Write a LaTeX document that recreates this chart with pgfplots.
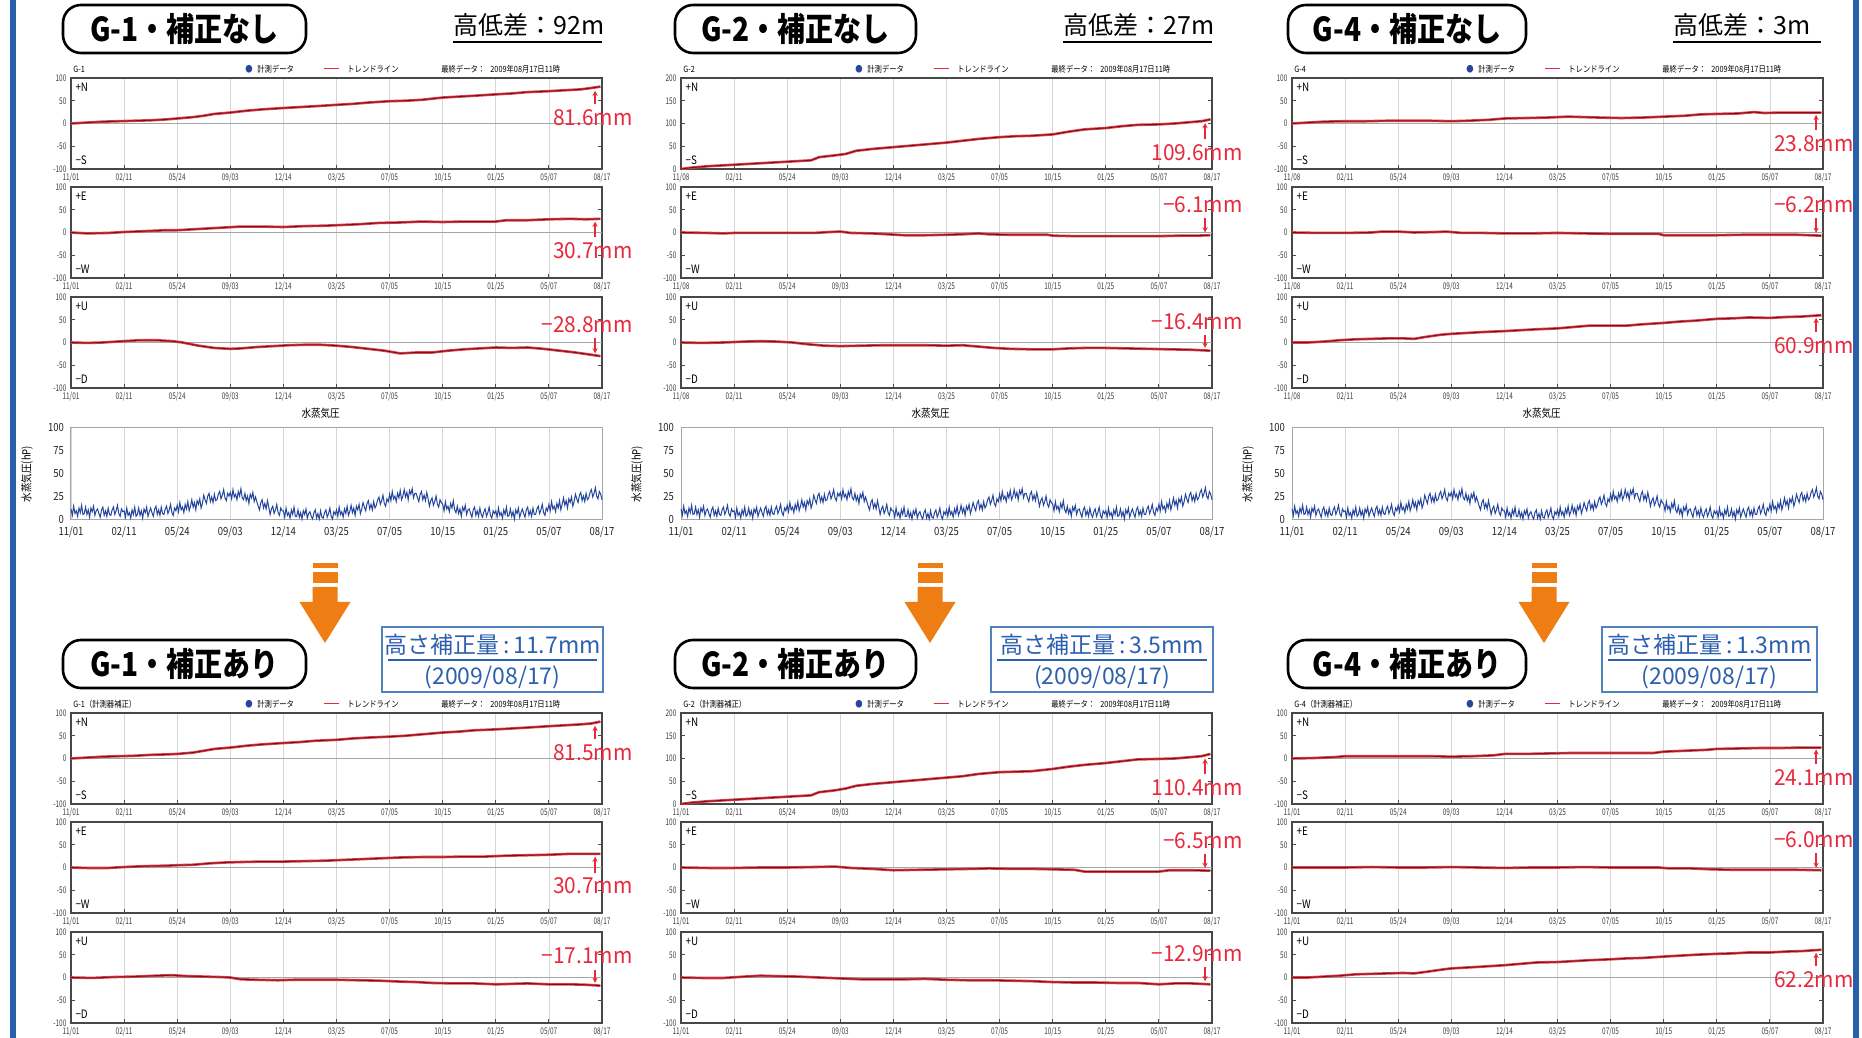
\documentclass[border=0pt]{standalone}
\usepackage{fontspec}
\setmainfont{Noto Sans CJK JP}
\newfontfamily\narrowf[FakeStretch=0.7]{Noto Sans CJK JP}
\newfontfamily\condf[FakeStretch=0.85]{Noto Sans CJK JP}
\newfontfamily\annf[FakeStretch=0.95]{Noto Sans CJK JP}
\usepackage{pgfplots}
\usepackage{pgfplotstable}
\pgfplotsset{compat=1.18}
\usetikzlibrary{arrows.meta}

\definecolor{trendred}{RGB}{228,62,72}
\definecolor{datared}{RGB}{115,20,28}
\definecolor{annred}{RGB}{232,40,60}
\definecolor{vapblue}{RGB}{38,70,158}
\definecolor{frameblue}{RGB}{40,95,170}
\definecolor{orng}{RGB}{238,125,20}
\definecolor{txtblue}{RGB}{45,95,175}
\definecolor{boxblue}{RGB}{80,130,190}

\newcommand\tickfont{\narrowf\fontsize{4.6}{5}\selectfont}
\newcommand\vapfont{\condf\fontsize{5.6}{6}\selectfont}
\newcommand\hdrfont{\condf\fontsize{4.3}{5}\selectfont}
\newcommand\lblfont{\condf\fontsize{5.8}{6}\selectfont}
\newcommand\annfont{\annf\fontsize{11}{11}\selectfont}
\newcommand\titlef{\condf\bfseries\fontsize{16.5}{17}\selectfont}
\newcommand\hlfont{\fontsize{12.5}{13}\selectfont}
\newcommand\bbfont{\fontsize{11.5}{12}\selectfont}

% ---------------- data ----------------
\pgfplotstableread[row sep=\\]{x y\\0 0\\0.3 2\\0.6 4\\0.9 5\\1.2 6\\1.5 7\\1.8 9\\2.0 11\\2.3 14\\2.5 17\\2.7 21\\3.0 24\\3.3 28\\3.6 31\\4.0 34\\4.3 36\\4.6 38\\5.0 41\\5.3 43\\5.6 46\\6.0 49\\6.3 50\\6.6 52\\7.0 57\\7.3 59\\7.6 61\\8.0 64\\8.3 66\\8.6 69\\9.0 71\\9.3 73\\9.6 75\\9.8 78\\9.97 81\\}\tAN
\pgfplotstableread[row sep=\\]{x y\\0 0\\0.3 -2\\0.7 -1\\1.0 1\\1.4 3\\1.8 5\\2.0 5\\2.3 7\\2.6 9\\2.9 11\\3.2 13\\3.6 13\\4.0 12\\4.4 14\\4.8 15\\5.0 16\\5.4 18\\5.8 21\\6.2 22\\6.6 24\\7.0 23\\7.4 24\\7.8 24\\8.0 24\\8.2 27\\8.6 27\\9.0 29\\9.4 30\\9.7 29\\9.97 30\\}\tAE
\pgfplotstableread[row sep=\\]{x y\\0 0\\0.3 -1\\0.6 0\\1.0 3\\1.3 5\\1.6 5\\1.9 3\\2.1 0\\2.4 -7\\2.7 -12\\3.0 -14\\3.2 -13\\3.5 -10\\3.8 -8\\4.1 -6\\4.4 -5\\4.7 -5\\5.0 -7\\5.3 -10\\5.6 -14\\5.9 -18\\6.2 -24\\6.5 -22\\6.8 -22\\7.1 -18\\7.4 -15\\7.7 -13\\8.0 -11\\8.3 -12\\8.6 -11\\8.9 -14\\9.2 -18\\9.5 -22\\9.8 -27\\9.97 -30\\}\tAU
\pgfplotstableread[row sep=\\]{x y\\0 0\\0.2 3\\0.5 6\\0.8 8\\1.1 10\\1.4 12\\1.7 14\\2.0 16\\2.3 18\\2.45 19\\2.6 26\\2.9 30\\3.1 33\\3.3 40\\3.6 44\\4.0 48\\4.3 51\\4.6 54\\5.0 58\\5.3 62\\5.6 66\\6.0 70\\6.3 72\\6.6 73\\7.0 76\\7.3 82\\7.6 87\\8.0 90\\8.3 94\\8.6 97\\9.0 98\\9.3 100\\9.6 103\\9.8 105\\9.97 109\\}\tBN
\pgfplotstableread[row sep=\\]{x y\\0 0\\0.5 -1\\0.8 -2\\1.0 -1\\1.5 -1\\2.0 -1\\2.5 -1\\2.8 1\\3.0 2\\3.2 -1\\3.6 -2\\3.9 -4\\4.2 -6\\4.6 -6\\5.0 -5\\5.3 -4\\5.6 -2\\5.8 -4\\6.2 -5\\6.6 -5\\6.9 -5\\7.0 -7\\7.4 -8\\7.8 -8\\8.2 -8\\8.6 -8\\9.0 -8\\9.4 -7\\9.7 -7\\9.97 -6\\}\tBE
\pgfplotstableread[row sep=\\]{x y\\0 0\\0.4 -1\\0.8 0\\1.2 2\\1.5 3\\1.8 2\\2.1 0\\2.4 -4\\2.7 -7\\3.0 -8\\3.4 -7\\3.8 -6\\4.2 -6\\4.6 -6\\5.0 -7\\5.3 -6\\5.6 -9\\5.9 -12\\6.2 -14\\6.6 -15\\7.0 -15\\7.3 -13\\7.6 -12\\8.0 -12\\8.4 -13\\8.8 -14\\9.2 -15\\9.6 -16\\9.97 -18\\}\tBU
\pgfplotstableread[row sep=\\]{x y\\0 0\\0.3 2\\0.6 4\\1.0 5\\1.4 5\\1.8 6\\2.2 6\\2.6 6\\3.0 5\\3.3 6\\3.7 8\\4.0 11\\4.4 12\\4.8 13\\5.2 15\\5.5 14\\5.8 13\\6.2 12\\6.6 13\\7.0 15\\7.4 17\\7.7 20\\8.0 21\\8.4 22\\8.7 25\\8.9 23\\9.2 24\\9.6 24\\9.97 24\\}\tCN
\pgfplotstableread[row sep=\\]{x y\\0 0\\0.5 -1\\1.0 -1\\1.5 0\\1.7 2\\2.0 2\\2.3 0\\2.7 1\\2.9 2\\3.2 -1\\3.6 -1\\4.0 -2\\4.5 -2\\5.0 -1\\5.5 -2\\6.0 -3\\6.5 -3\\6.9 -3\\7.0 -6\\7.5 -6\\8.0 -6\\8.5 -5\\9.0 -5\\9.5 -5\\9.97 -7\\}\tCE
\pgfplotstableread[row sep=\\]{x y\\0 0\\0.3 0\\0.6 2\\0.9 5\\1.2 7\\1.5 8\\1.8 9\\2.1 9\\2.3 8\\2.5 12\\2.8 17\\3.0 19\\3.3 21\\3.6 23\\4.0 25\\4.3 27\\4.6 29\\5.0 31\\5.3 34\\5.6 37\\6.0 37\\6.3 37\\6.6 40\\7.0 43\\7.3 46\\7.6 48\\8.0 52\\8.3 53\\8.6 55\\9.0 54\\9.3 56\\9.6 57\\9.97 60\\}\tCU
\pgfplotstableread[row sep=\\]{x y\\0 0\\0.3 2\\0.6 4\\0.9 5\\1.2 6\\1.5 8\\1.8 9\\2.0 10\\2.3 13\\2.5 17\\2.7 21\\3.0 24\\3.3 28\\3.6 31\\4.0 34\\4.3 36\\4.6 39\\5.0 41\\5.3 44\\5.6 46\\6.0 48\\6.3 50\\6.6 53\\7.0 57\\7.3 59\\7.6 62\\8.0 64\\8.3 66\\8.6 68\\9.0 71\\9.3 73\\9.6 75\\9.8 77\\9.97 81\\}\tDN
\pgfplotstableread[row sep=\\]{x y\\0 0\\0.3 -1\\0.7 -1\\1.0 1\\1.4 3\\1.8 4\\2.0 5\\2.3 6\\2.6 9\\2.9 11\\3.2 12\\3.6 13\\4.0 13\\4.4 14\\4.8 15\\5.0 16\\5.4 18\\5.8 20\\6.2 22\\6.6 23\\7.0 23\\7.4 24\\7.8 24\\8.0 25\\8.2 26\\8.6 27\\9.0 28\\9.4 30\\9.7 30\\9.97 30\\}\tDE
\pgfplotstableread[row sep=\\]{x y\\0 0\\0.4 -1\\0.8 1\\1.2 2\\1.6 4\\1.9 5\\2.2 3\\2.5 2\\2.8 1\\3.0 0\\3.2 -4\\3.5 -5\\3.9 -6\\4.2 -5\\4.6 -5\\5.0 -5\\5.4 -6\\5.8 -7\\6.2 -9\\6.5 -10\\6.8 -12\\7.2 -13\\7.6 -13\\8.0 -15\\8.3 -14\\8.6 -13\\9.0 -15\\9.4 -15\\9.7 -16\\9.97 -18\\}\tDU
\pgfplotstableread[row sep=\\]{x y\\0 0\\0.2 3\\0.5 6\\0.8 8\\1.1 10\\1.4 12\\1.7 14\\2.0 16\\2.3 18\\2.45 19\\2.6 26\\2.9 30\\3.1 34\\3.3 40\\3.6 44\\4.0 48\\4.3 51\\4.6 54\\5.0 58\\5.3 61\\5.6 66\\6.0 70\\6.3 71\\6.6 72\\7.0 77\\7.3 82\\7.6 86\\8.0 90\\8.3 94\\8.6 98\\9.0 99\\9.3 100\\9.6 103\\9.8 105\\9.97 110\\}\tEN
\pgfplotstableread[row sep=\\]{x y\\0 0\\0.5 -1\\1.0 -1\\1.5 0\\2.0 0\\2.5 1\\2.9 2\\3.2 -1\\3.6 -3\\4.0 -6\\4.5 -5\\5.0 -4\\5.5 -3\\5.8 -2\\6.2 -3\\6.6 -3\\7.0 -4\\7.4 -5\\7.6 -9\\8.0 -9\\8.5 -9\\9.0 -9\\9.2 -6\\9.6 -6\\9.97 -7\\}\tEE
\pgfplotstableread[row sep=\\]{x y\\0 0\\0.4 -1\\0.8 -1\\1.2 2\\1.5 4\\1.8 3\\2.2 2\\2.6 0\\3.0 -2\\3.4 -4\\3.8 -4\\4.2 -4\\4.6 -3\\5.0 -5\\5.4 -6\\5.8 -6\\6.2 -7\\6.6 -8\\7.0 -10\\7.4 -11\\7.8 -11\\8.2 -12\\8.6 -12\\9.0 -15\\9.3 -13\\9.6 -13\\9.97 -15\\}\tEU
\pgfplotstableread[row sep=\\]{x y\\0 0\\0.4 1\\0.8 3\\1.0 5\\1.4 5\\1.8 5\\2.2 5\\2.6 5\\3.0 4\\3.4 5\\3.8 7\\4.0 10\\4.4 10\\4.8 11\\5.2 12\\5.6 12\\6.0 12\\6.4 12\\6.8 12\\7.0 15\\7.4 17\\7.8 19\\8.0 21\\8.4 22\\8.8 23\\9.2 23\\9.6 24\\9.97 24\\}\tFN
\pgfplotstableread[row sep=\\]{x y\\0 0\\0.5 0\\1.0 0\\1.5 1\\2.0 0\\2.5 0\\3.0 1\\3.5 0\\4.0 -1\\4.5 0\\5.0 0\\5.5 1\\6.0 0\\6.5 0\\6.9 0\\7.1 -2\\7.5 -2\\7.9 -4\\8.3 -5\\8.7 -5\\9.1 -5\\9.5 -5\\9.97 -6\\}\tFE
\pgfplotstableread[row sep=\\]{x y\\0 0\\0.3 0\\0.6 2\\0.9 4\\1.2 7\\1.5 8\\1.8 9\\2.1 10\\2.3 9\\2.5 12\\2.8 17\\3.0 20\\3.3 22\\3.6 24\\4.0 27\\4.3 30\\4.6 33\\5.0 34\\5.3 36\\5.6 38\\6.0 40\\6.3 42\\6.6 43\\7.0 46\\7.3 48\\7.6 50\\8.0 52\\8.3 53\\8.6 55\\9.0 55\\9.3 57\\9.6 58\\9.97 61\\}\tFU
% water vapour pressure, one value every 0.025 of the date axis
\pgfplotstableread[row sep=\\]{y\\
12\\5\\15\\7\\10\\4\\13\\8\\16\\6\\
7\\14\\6\\11\\3\\13\\9\\15\\5\\10\\
12\\7\\3\\11\\14\\5\\10\\4\\13\\6\\
5\\11\\14\\6\\10\\16\\7\\4\\12\\9\\
10\\3\\13\\5\\8\\2\\11\\6\\14\\4\\
6\\13\\5\\10\\2\\12\\8\\14\\4\\9\\
13\\8\\4\\12\\15\\6\\11\\5\\14\\7\\
6\\12\\15\\7\\11\\17\\8\\5\\13\\10\\
16\\9\\19\\11\\14\\8\\17\\12\\20\\10\\
15\\22\\14\\19\\11\\21\\17\\23\\13\\18\\
27\\22\\18\\26\\29\\20\\25\\19\\28\\21\\
22\\28\\31\\23\\27\\33\\24\\21\\29\\26\\
30\\23\\33\\25\\28\\22\\31\\26\\34\\24\\
22\\29\\21\\26\\18\\28\\24\\30\\20\\25\\
20\\15\\11\\19\\22\\13\\18\\12\\21\\14\\
6\\12\\15\\7\\11\\17\\8\\5\\13\\10\\
10\\3\\13\\5\\8\\2\\11\\6\\14\\4\\
4\\11\\3\\8\\1\\10\\6\\12\\2\\7\\
9\\4\\1\\8\\11\\2\\7\\1\\10\\3\\
2\\8\\11\\3\\7\\13\\4\\1\\9\\6\\
11\\4\\14\\6\\9\\3\\12\\7\\15\\5\\
9\\16\\8\\13\\5\\15\\11\\17\\7\\12\\
19\\14\\10\\18\\21\\12\\17\\11\\20\\13\\
16\\22\\25\\17\\21\\27\\18\\15\\23\\20\\
28\\21\\31\\23\\26\\20\\29\\24\\32\\22\\
26\\33\\25\\30\\22\\32\\28\\34\\24\\29\\
29\\24\\20\\28\\31\\22\\27\\21\\30\\23\\
15\\21\\24\\16\\20\\26\\17\\14\\22\\19\\
17\\10\\20\\12\\15\\9\\18\\13\\21\\11\\
8\\15\\7\\12\\4\\14\\10\\16\\6\\11\\
12\\7\\3\\11\\14\\5\\10\\4\\13\\6\\
3\\9\\12\\4\\8\\14\\5\\2\\10\\7\\
10\\3\\13\\5\\8\\2\\11\\6\\14\\4\\
5\\12\\4\\9\\1\\11\\7\\13\\3\\8\\
12\\7\\3\\11\\14\\5\\10\\4\\13\\6\\
6\\12\\15\\7\\11\\17\\8\\5\\13\\10\\
17\\10\\20\\12\\15\\9\\18\\13\\21\\11\\
17\\24\\16\\21\\13\\23\\19\\25\\15\\20\\
28\\23\\19\\27\\30\\21\\26\\20\\29\\22\\
24\\30\\33\\25\\29\\35\\26\\23\\31\\28\\
22\\}\tV

\pgfplotsset{
 base/.style={scale only axis, width=265.5pt, xmin=0, xmax=10, xtick={0,1,...,10}, clip=false,
   xmajorgrids, major grid style={black!16, line width=0.35pt},
   tick align=inside, major tick length=2pt, xtick pos=left,
   /pgf/number format/assume math mode=true},
 disp/.style={base, height=45.5pt, ymin=-100, ymax=100, ytick={-100,-50,0,50,100},
   axis line style={draw=black!72, line width=0.75pt},
   tick style={black!70, line width=0.5pt},
   tick label style={font=\tickfont, text=black!75},
   xticklabel style={yshift=1.2pt}, yticklabel style={xshift=1.2pt},
   xticklabels={11/01,02/11,05/24,09/03,12/14,03/25,07/05,10/15,01/25,05/07,08/17}},
 labB/.style={xticklabels={11/08,02/11,05/24,09/03,12/14,03/25,07/05,10/15,01/25,05/07,08/17}},
 n200/.style={ymin=0, ymax=200, ytick={0,50,100,150,200}},
 vap/.style={base, height=46pt, ymin=0, ymax=100, ytick={0,25,50,75,100},
   axis line style={draw=black!35, line width=0.5pt}, major tick length=0pt,
   tick label style={font=\vapfont, text=black!85},
   xticklabels={11/01,02/11,05/24,09/03,12/14,03/25,07/05,10/15,01/25,05/07,08/17}},
}

\newcommand\zl{\draw[black!35, line width=0.7pt] (axis cs:0,0) -- (axis cs:10,0);}
\newcommand\ann[4]{%
  \node[font=\annfont, text=annred, anchor=east, inner sep=0pt] at (axis cs:10.58,#2) {#1};
  \draw[annred, line width=0.7pt, -{Stealth[length=2.6pt,width=2.6pt]}] (axis cs:9.87,#3) -- (axis cs:9.87,#4);}
\newcommand\DA[8]{%
\begin{axis}[at={(#1pt,#2pt)}, anchor=north west, disp, #3]
  #8
  \addplot[trendred, line width=1.3pt] table[x=x,y=y] {#4};
  \addplot[datared, line width=0.45pt] table[x=x,y=y] {#4};
  \node[anchor=west, font=\lblfont, inner sep=1pt] at (rel axis cs:0.004,0.9) {#5};
  \node[anchor=west, font=\lblfont, inner sep=1pt] at (rel axis cs:0.004,0.1) {#6};
  #7
\end{axis}}
\newcommand\VA[1]{%
\begin{axis}[at={(#1pt,305pt)}, anchor=north west, vap]
  \addplot[vapblue, line width=0.5pt] table[x expr=\coordindex*0.025, y=y] {\tV};
  \node[font=\vapfont] at (rel axis cs:0.47,1.163) {水蒸気圧};
  \node[font=\vapfont, rotate=90] at (rel axis cs:-0.083,0.5) {水蒸気圧(hP)};
\end{axis}}
\newcommand\hdr[3]{%
  \node[anchor=west, font=\hdrfont, inner sep=0pt] at (#1+1,#2+4.5) {#3};
  \node[font=\hdrfont, text=vapblue, inner sep=0pt] at (#1+89,#2+4.6) {●};
  \node[anchor=west, font=\hdrfont, inner sep=0pt] at (#1+93,#2+4.5) {計測データ};
  \draw[annred, line width=0.5pt] (#1+126.4,#2+4.6) -- (#1+134.1,#2+4.6);
  \node[anchor=west, font=\hdrfont, inner sep=0pt] at (#1+138,#2+4.5) {トレンドライン};
  \node[anchor=west, font=\hdrfont, inner sep=0pt] at (#1+185,#2+4.5) {最終データ：};
  \node[anchor=west, font=\hdrfont, inner sep=0pt] at (#1+209.5,#2+4.5) {2009年08月17日11時};}
\newcommand\tbox[4]{%
  \draw[line width=1.3pt, rounded corners=9pt, fill=white] (#1,#2) rectangle (#3,#2+24);
  \node[font=\titlef, inner sep=0pt] at ({(#1+#3)/2},#2+12) {#4};}
\newcommand\hl[3]{%
  \node[anchor=base west, font=\hlfont, inner sep=0pt] at (#1,501.5) {#3};
  \draw[line width=0.6pt] (#1,498) -- (#2,498);}
\newcommand\bbox[3]{%
  \draw[boxblue, line width=0.6pt] (#1,173) rectangle (#2,205.5);
  \node[font=\bbfont, text=txtblue, inner sep=0pt] at ({(#1+#2)/2},196.5) {#3};
  \draw[txtblue, line width=0.6pt] (#1+3,189) -- (#2-3,189);
  \node[font=\bbfont, text=txtblue, inner sep=0pt] at ({(#1+#2)/2},180.5) {(2009/08/17)};}
\newcommand\oarrow[1]{%
  \fill[orng] (#1-6.25,237.5) rectangle (#1+6.25,235);
  \fill[orng] (#1-6.25,233) rectangle (#1+6.25,227.5);
  \fill[orng] (#1-6.25,225.5) -- (#1+6.25,225.5) -- (#1+6.25,218) -- (#1+12.75,218) -- (#1,197.5) -- (#1-12.75,218) -- (#1-6.25,218) -- cycle;}

\begin{document}
\begin{tikzpicture}[x=1pt,y=1pt]
\useasboundingbox (0,0) rectangle (931,519);
\fill[white] (0,0) rectangle (931,519);
\fill[frameblue] (5,0) rectangle (8,519);
\fill[frameblue] (926.5,0) rectangle (929.5,519);

% ---------- G-1 ----------
\DA{35.5}{480}{}{\tAN}{+N}{−S}{\ann{81.6mm}{13}{43}{72}}{\zl}
\DA{35.5}{425.5}{}{\tAE}{+E}{−W}{\ann{30.7mm}{-41}{-11}{24}}{\zl}
\DA{35.5}{370.5}{}{\tAU}{+U}{−D}{\ann{−28.8mm}{39}{9}{-24}}{\zl}
\VA{35.5}
\DA{35.5}{162.5}{}{\tDN}{+N}{−S}{\ann{81.5mm}{13}{43}{72}}{\zl}
\DA{35.5}{108}{}{\tDE}{+E}{−W}{\ann{30.7mm}{-41}{-11}{24}}{\zl}
\DA{35.5}{53}{}{\tDU}{+U}{−D}{\ann{−17.1mm}{47}{17}{-12}}{\zl}
% ---------- G-2 ----------
\DA{340.5}{480}{labB,n200}{\tBN}{+N}{−S}{\ann{109.6mm}{35}{65}{101}}{}
\DA{340.5}{425.5}{labB}{\tBE}{+E}{−W}{\ann{−6.1mm}{61}{31}{0}}{\zl}
\DA{340.5}{370.5}{labB}{\tBU}{+U}{−D}{\ann{−16.4mm}{46}{16}{-12}}{\zl}
\VA{340.5}
\DA{340.5}{162.5}{n200}{\tEN}{+N}{−S}{\ann{110.4mm}{35}{65}{100}}{}
\DA{340.5}{108}{}{\tEE}{+E}{−W}{\ann{−6.5mm}{59}{29}{-1}}{\zl}
\DA{340.5}{53}{}{\tEU}{+U}{−D}{\ann{−12.9mm}{53}{23}{-8}}{\zl}
% ---------- G-4 ----------
\DA{646}{480}{labB}{\tCN}{+N}{−S}{\ann{23.8mm}{-45}{-15}{19}}{\zl}
\DA{646}{425.5}{labB}{\tCE}{+E}{−W}{\ann{−6.2mm}{61}{31}{-1}}{\zl}
\DA{646}{370.5}{labB}{\tCU}{+U}{−D}{\ann{60.9mm}{-7}{23}{54}}{\zl}
\VA{646}
\DA{646}{162.5}{}{\tFN}{+N}{−S}{\ann{24.1mm}{-43}{-13}{20}}{\zl}
\DA{646}{108}{}{\tFE}{+E}{−W}{\ann{−6.0mm}{61}{31}{-1}}{\zl}
\DA{646}{53}{}{\tFU}{+U}{−D}{\ann{62.2mm}{-5}{25}{54}}{\zl}

% headers
\hdr{35.5}{480}{G-1}
\hdr{340.5}{480}{G-2}
\hdr{646}{480}{G-4}
\hdr{35.5}{162.5}{G-1（計測器補正）}
\hdr{340.5}{162.5}{G-2（計測器補正）}
\hdr{646}{162.5}{G-4（計測器補正）}

% titles
\tbox{31.5}{492.5}{153}{G-1・補正なし}
\tbox{337.5}{492.5}{458}{G-2・補正なし}
\tbox{644}{492.5}{763}{G-4・補正なし}
\tbox{31.5}{175}{153}{G-1・補正あり}
\tbox{337.5}{175}{458}{G-2・補正あり}
\tbox{644}{175}{763}{G-4・補正あり}

\hl{226.5}{301}{高低差：92m}
\hl{531.5}{606}{高低差：27m}
\hl{836.5}{910.5}{高低差：3m}

\bbox{191}{301.5}{高さ補正量\,:\,11.7mm}
\bbox{495.5}{606.5}{高さ補正量\,:\,3.5mm}
\bbox{801}{908.5}{高さ補正量\,:\,1.3mm}

\oarrow{162.5}
\oarrow{465}
\oarrow{772}
\end{tikzpicture}
\end{document}
